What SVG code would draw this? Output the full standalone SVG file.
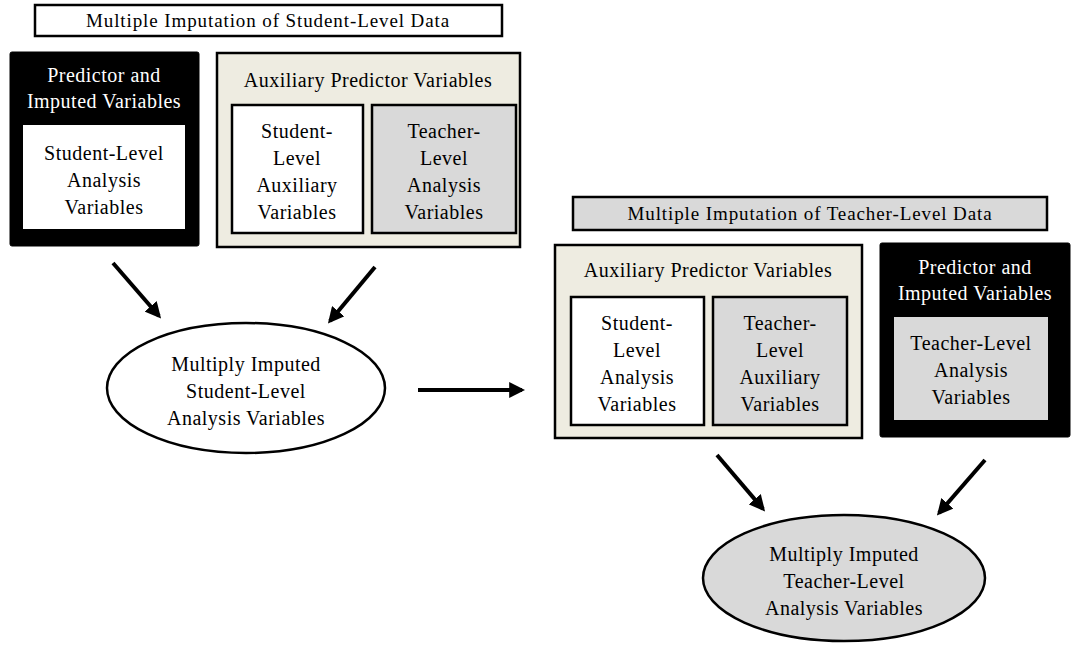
<svg xmlns="http://www.w3.org/2000/svg" width="1072" height="645" viewBox="0 0 1072 645">
<style>
text{font-family:"Liberation Serif","DejaVu Serif",serif;font-size:20px;letter-spacing:0.5px;fill:#000;text-anchor:middle}
.t{font-size:19px;letter-spacing:0.9px}
.w{fill:#fff}
.box{stroke:#000;stroke-width:2.5}
.white{fill:#fff}
.grey{fill:#d9d9d9}
.beige{fill:#eeece1}
.blk{fill:#000;stroke:#000}
.conn line{stroke:#000;stroke-width:4}
</style>
<defs>
<marker id="ah" viewBox="0 0 10 10" refX="8" refY="5" markerWidth="4" markerHeight="4" orient="auto" markerUnits="strokeWidth">
<path d="M0,0 L10,5 L0,10 z" fill="#000"/>
</marker>
</defs>
<g id="title1"><rect class="box white" x="35" y="5" width="467" height="31"/><text class="t" x="268" y="27">Multiple Imputation of Student-Level Data</text></g>
<g id="pred1"><rect class="blk" x="10" y="52" width="189" height="194" rx="2"/>
<text class="w" x="104" y="82">Predictor and</text><text class="w" x="104" y="108">Imputed Variables</text>
<rect fill="#fff" x="23" y="125" width="162" height="104"/>
<text x="104" y="160">Student-Level</text><text x="104" y="187">Analysis</text><text x="104" y="214">Variables</text></g>
<g id="aux1"><rect class="box beige" x="217" y="53" width="303" height="194"/>
<text x="368" y="87">Auxiliary Predictor Variables</text>
<rect class="box white" x="232" y="105" width="131" height="128"/>
<text x="297" y="138">Student-</text><text x="297" y="165">Level</text><text x="297" y="192">Auxiliary</text><text x="297" y="219">Variables</text>
<rect class="box grey" x="372" y="105" width="144" height="128"/>
<text x="444" y="138">Teacher-</text><text x="444" y="165">Level</text><text x="444" y="192">Analysis</text><text x="444" y="219">Variables</text></g>
<g id="mi1"><ellipse class="box white" cx="246" cy="388" rx="139" ry="65"/>
<text x="246" y="371">Multiply Imputed</text><text x="246" y="398">Student-Level</text><text x="246" y="425">Analysis Variables</text></g>
<g id="title2"><rect class="box grey" x="573" y="197" width="474" height="33"/><text class="t" x="810" y="220">Multiple Imputation of Teacher-Level Data</text></g>
<g id="aux2"><rect class="box beige" x="555" y="245" width="307" height="193"/>
<text x="708" y="277">Auxiliary Predictor Variables</text>
<rect class="box white" x="571" y="297" width="133" height="128"/>
<text x="637" y="330">Student-</text><text x="637" y="357">Level</text><text x="637" y="384">Analysis</text><text x="637" y="411">Variables</text>
<rect class="box grey" x="713" y="297" width="134" height="128"/>
<text x="780" y="330">Teacher-</text><text x="780" y="357">Level</text><text x="780" y="384">Auxiliary</text><text x="780" y="411">Variables</text></g>
<g id="pred2"><rect class="blk" x="880" y="243" width="190" height="194" rx="2"/>
<text class="w" x="975" y="274">Predictor and</text><text class="w" x="975" y="300">Imputed Variables</text>
<rect class="grey" x="894" y="317" width="154" height="103"/>
<text x="971" y="350">Teacher-Level</text><text x="971" y="377">Analysis</text><text x="971" y="404">Variables</text></g>
<g id="mi2"><ellipse class="box grey" cx="844" cy="578" rx="141" ry="63"/>
<text x="844" y="561">Multiply Imputed</text><text x="844" y="588">Teacher-Level</text><text x="844" y="615">Analysis Variables</text></g>
<g class="conn" id="connectors">
<line x1="113" y1="263" x2="159" y2="316" marker-end="url(#ah)"/>
<line x1="375" y1="267" x2="330" y2="321" marker-end="url(#ah)"/>
<line x1="418" y1="390" x2="522" y2="390" marker-end="url(#ah)"/>
<line x1="717" y1="455" x2="763" y2="509" marker-end="url(#ah)"/>
<line x1="985" y1="460" x2="939" y2="513" marker-end="url(#ah)"/>
</g>
</svg>
